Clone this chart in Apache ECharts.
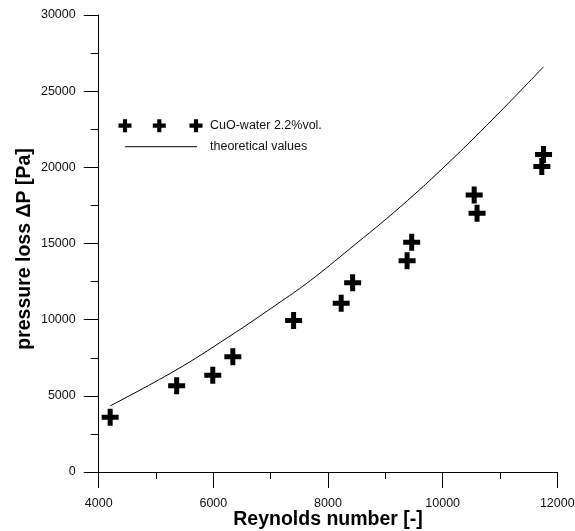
<!DOCTYPE html>
<html>
<head>
<meta charset="utf-8">
<script src="https://cdn.jsdelivr.net/npm/echarts@6/dist/echarts.min.js"></script>
<style>html,body{margin:0;padding:0;background:#fff}#c{width:575px;height:531px}</style>
</head>
<body>
<div id="c"></div>
<script>
// measured data (CuO-water 2.2%vol.)
const reynolds = [4200, 5360, 5990, 6340, 7400, 8230, 8430, 9380, 9460, 10550, 10600, 11730, 11760];
const pressureLoss = [3600, 5670, 6350, 7570, 9950, 11080, 12430, 13870, 15080, 18180, 16980, 20050, 20850];
// theoretical values curve
const theoryRe = [4200, 5330, 6260, 7190, 7690, 8380, 9260, 10130, 11000, 11760];
const theoryDp = [4340, 6650, 8850, 11220, 12560, 14650, 17400, 20400, 23640, 26600];
const legendNames = ['CuO-water 2.2%vol.', 'theoretical values'];
const xName = 'Reynolds number [-]';
const yName = 'pressure loss \u0394P [Pa]';

const FONT = '"Liberation Sans", Arial, sans-serif';
const crossPath = 'path://M6,0H11V6H17V11H11V17H6V11H0V6H6Z';
const chart = echarts.init(document.getElementById('c'), null, {renderer: 'canvas'});

function legendCross(cx, cy, s) {
  const h = s / 2, t = s * 0.16;
  return {
    type: 'polygon', silent: true,
    shape: {points: [
      [cx - t, cy - h], [cx + t, cy - h], [cx + t, cy - t], [cx + h, cy - t], [cx + h, cy + t],
      [cx + t, cy + t], [cx + t, cy + h], [cx - t, cy + h], [cx - t, cy + t], [cx - h, cy + t],
      [cx - h, cy - t], [cx - t, cy - t]
    ]},
    style: {fill: '#000'}
  };
}

chart.setOption({
  animation: false,
  backgroundColor: '#fff',
  grid: {left: 98.7, right: 17.7, top: 15, bottom: 59, containLabel: false, outerBoundsMode: 'none'},
  xAxis: {
    type: 'value', min: 4000, max: 12000, interval: 2000,
    name: xName, nameLocation: 'middle', nameGap: 38, nameMoveOverlap: false,
    nameTextStyle: {fontFamily: FONT, fontWeight: 'bold', fontSize: 19.5, color: '#000'},
    axisLine: {lineStyle: {color: '#000', width: 1}},
    axisTick: {show: true, inside: false, length: 16, lineStyle: {color: '#000'}},
    minorTick: {show: true, splitNumber: 2, length: 7, lineStyle: {color: '#000'}},
    splitLine: {show: false},
    axisLabel: {fontFamily: FONT, fontSize: 12.5, color: '#111', margin: 25, formatter: v => String(v)}
  },
  yAxis: {
    type: 'value', min: 0, max: 30000, interval: 5000,
    name: yName, nameLocation: 'middle', nameGap: 64, nameRotate: 90, nameMoveOverlap: false,
    nameTextStyle: {fontFamily: FONT, fontWeight: 'bold', fontSize: 19.5, color: '#000', padding: [0, 11, 0, 0]},
    axisLine: {show: true, lineStyle: {color: '#000', width: 1}},
    axisTick: {show: true, inside: false, length: 15, lineStyle: {color: '#000'}},
    minorTick: {show: true, splitNumber: 2, length: 8, lineStyle: {color: '#000'}},
    splitLine: {show: false},
    axisLabel: {fontFamily: FONT, fontSize: 12.5, color: '#111', margin: 23, formatter: v => String(v)}
  },
  series: [
    {
      name: legendNames[1], type: 'line', smooth: 0.4, symbol: 'none',
      lineStyle: {color: '#000', width: 1},
      data: theoryRe.map((x, i) => [x, theoryDp[i]]),
      z: 2
    },
    {
      name: legendNames[0], type: 'scatter', symbol: crossPath, symbolSize: 17,
      itemStyle: {color: '#000', opacity: 1},
      data: reynolds.map((x, i) => [x, pressureLoss[i]]),
      z: 3
    }
  ],
  graphic: [
    legendCross(125, 125.7, 13),
    legendCross(159.3, 125.7, 13),
    legendCross(196, 125.7, 13),
    {type: 'line', silent: true, shape: {x1: 125, y1: 146.7, x2: 197, y2: 146.7}, style: {stroke: '#000', lineWidth: 1}},
    {type: 'text', silent: true, left: 210, top: 119, style: {text: legendNames[0], font: '12.5px ' + FONT, fill: '#111'}},
    {type: 'text', silent: true, left: 210, top: 140, style: {text: legendNames[1], font: '12.5px ' + FONT, fill: '#111'}}
  ]
});
</script>
</body>
</html>
